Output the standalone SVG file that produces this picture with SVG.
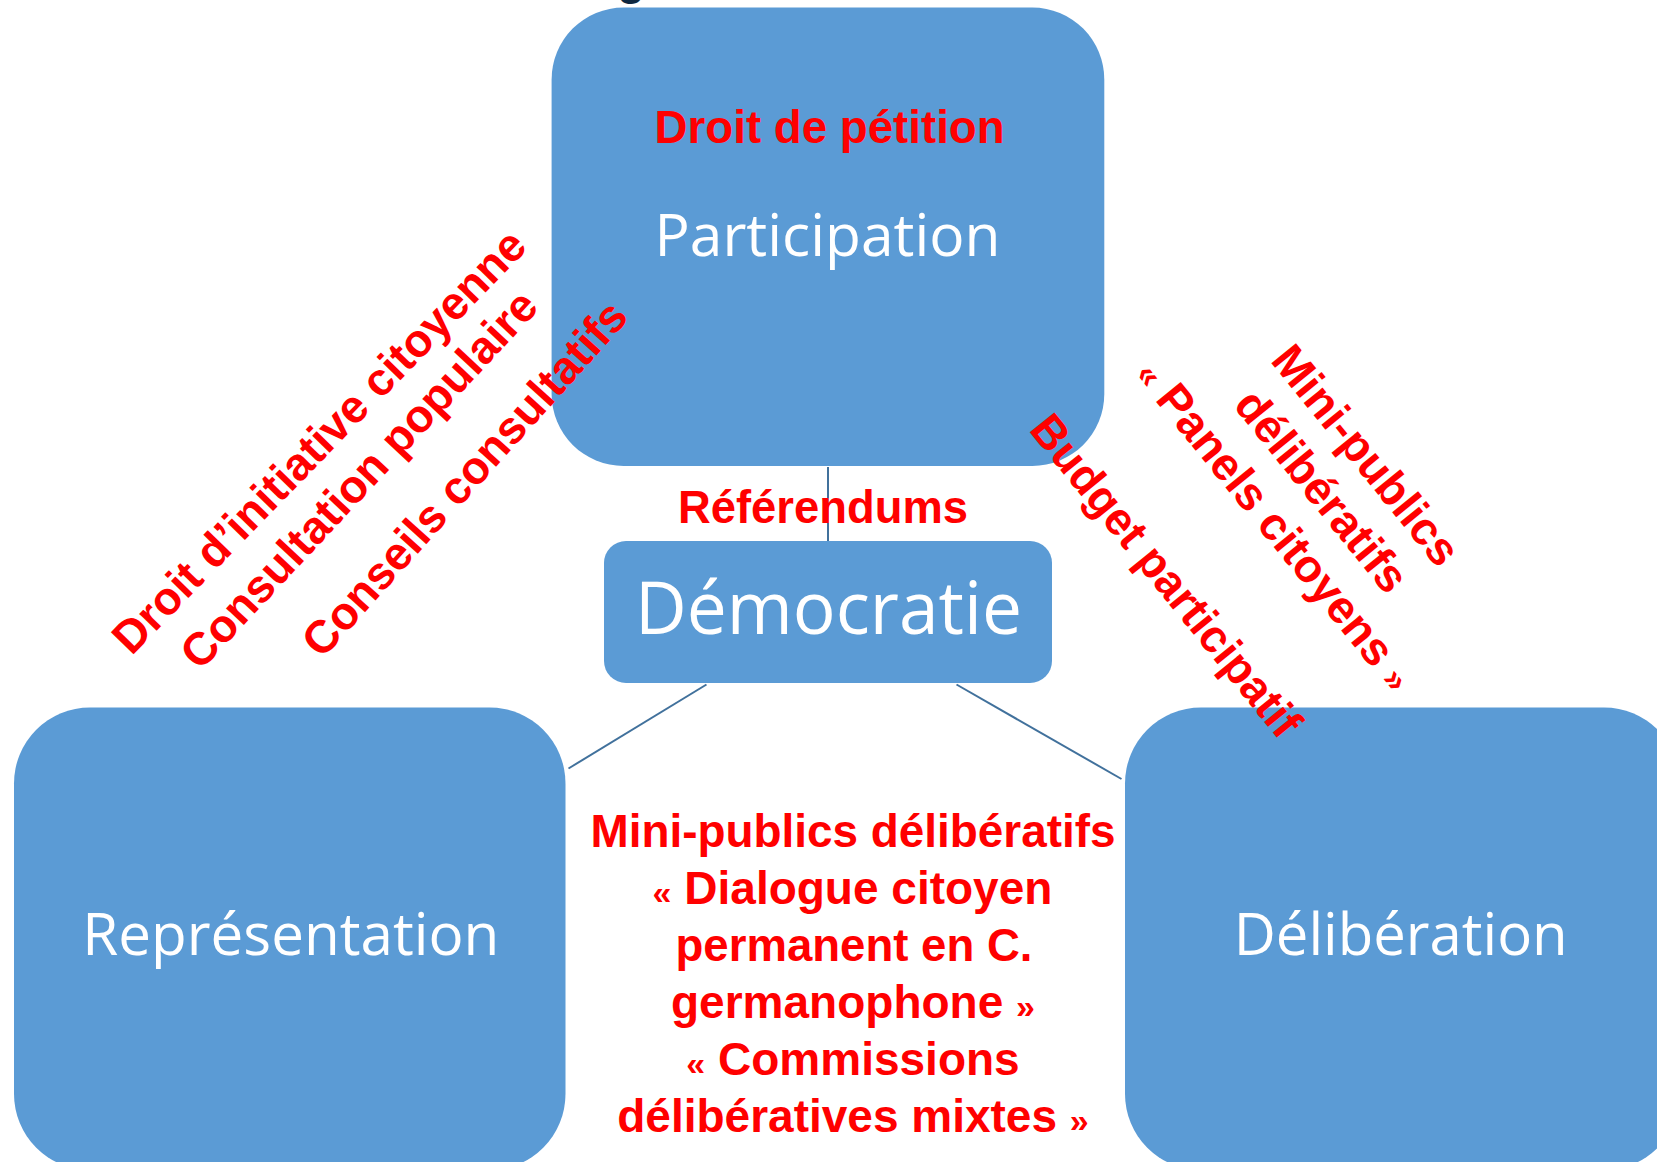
<svg xmlns="http://www.w3.org/2000/svg" width="1657" height="1162" viewBox="0 0 1657 1162">
<style>
.box{fill:#5B9BD5;}
.lbl{fill:#FFFFFF;font-family:"Open Sans","Noto Sans",sans-serif;font-weight:400;text-anchor:middle;}
.red{fill:#FF0000;font-family:"Liberation Sans",Arial,sans-serif;font-weight:700;font-size:46px;}
.mid{text-anchor:middle;}
.gq{font-size:34px;}
.conn{stroke:#41719C;stroke-width:2;fill:none;}
</style>
<rect width="1657" height="1162" fill="#FFFFFF"/>
<text x="617" y="-6" style="fill:#0E2841;font-family:'Liberation Sans',Arial,sans-serif;font-weight:700;font-size:46px">g</text>
<g id="connectors">
<line class="conn" x1="828" y1="467" x2="828" y2="541"/>
<line class="conn" x1="706.5" y1="684.5" x2="568.5" y2="768.5"/>
<line class="conn" x1="956.5" y1="684.5" x2="1121.5" y2="779"/>
</g>
<g id="participation">
<rect class="box" x="551.6" y="7.5" width="552.7" height="458.5" rx="72" ry="72"/>
<text class="lbl" x="827.5" y="256" font-size="59" textLength="346" lengthAdjust="spacingAndGlyphs">Participation</text>
</g>
<g id="democratie">
<rect class="box" x="604" y="541" width="448" height="142" rx="22" ry="22"/>
<text class="lbl" x="828.5" y="634" font-size="73" textLength="387" lengthAdjust="spacingAndGlyphs">Démocratie</text>
</g>
<g id="representation">
<rect class="box" x="14" y="707.5" width="551.5" height="462.5" rx="76" ry="76"/>
<text class="lbl" x="290.8" y="955" font-size="59" textLength="417" lengthAdjust="spacingAndGlyphs">Représentation</text>
</g>
<g id="deliberation">
<rect class="box" x="1125" y="707.5" width="555" height="462.5" rx="76" ry="76"/>
<text class="lbl" x="1400.7" y="955" font-size="59" textLength="334" lengthAdjust="spacingAndGlyphs">Délibération</text>
</g>
<g id="labels">
<text class="red mid" x="829.6" y="143" textLength="350" lengthAdjust="spacingAndGlyphs">Droit de pétition</text>
<text class="red mid" x="823" y="523.3" textLength="290" lengthAdjust="spacingAndGlyphs">Référendums</text>
<g class="red mid">
<text x="853" y="846.5" textLength="525" lengthAdjust="spacingAndGlyphs">Mini-publics délibératifs</text>
<text x="852.5" y="903.5"><tspan class="gq">«</tspan> Dialogue citoyen</text>
<text x="854" y="960.5" textLength="357" lengthAdjust="spacingAndGlyphs">permanent en C.</text>
<text x="853" y="1017.5">germanophone <tspan class="gq">»</tspan></text>
<text x="853" y="1074.5"><tspan class="gq">«</tspan> Commissions</text>
<text x="853" y="1131.5">délibératives mixtes <tspan class="gq">»</tspan></text>
</g>
<text class="red mid" transform="translate(330.2 452.3) rotate(-45.8)" textLength="570" lengthAdjust="spacingAndGlyphs">Droit d’initiative citoyenne</text>
<text class="red mid" transform="translate(370.3 490) rotate(-46.9)" textLength="498" lengthAdjust="spacingAndGlyphs">Consultation populaire</text>
<text class="red mid" transform="translate(476.2 488.9) rotate(-48)" textLength="460" lengthAdjust="spacingAndGlyphs">Conseils consultatifs</text>
<g transform="translate(1354 465) rotate(51)">
<text class="red mid" x="0" y="0">Mini-publics</text>
<text class="red mid" x="0" y="57">délibératifs</text>
<text class="red mid" x="-2.8" y="114"><tspan class="gq">«</tspan> Panels citoyens <tspan class="gq">»</tspan></text>
<text class="red" x="-232.3" y="231.4" textLength="400" lengthAdjust="spacingAndGlyphs">Budget participatif</text>
</g>
</g>
</svg>
